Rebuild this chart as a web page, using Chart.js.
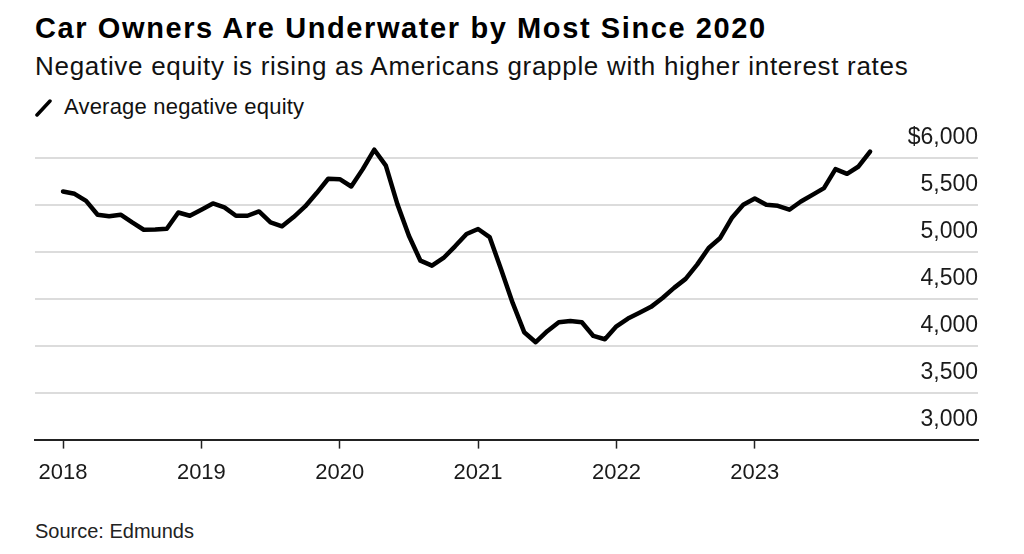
<!DOCTYPE html>
<html>
<head>
<meta charset="utf-8">
<script src="https://cdn.jsdelivr.net/npm/chart.js@4.4.1/dist/chart.umd.min.js"></script>
<style>
    html, body {
        margin: 0;
        padding: 0;
        background: #ffffff;
    }
    body {
        width: 1024px;
        height: 554px;
        position: relative;
        overflow: hidden;
        font-family: 'Liberation Sans', Arial, Helvetica, sans-serif;
        color: #000;
    }
    .txt {
        position: absolute;
        left: 35px;
        line-height: 1;
        white-space: nowrap;
    }
    #title {
        top: 14px;
        font-size: 29px;
        font-weight: bold;
        letter-spacing: 1.6px;
    }
    #subtitle {
        top: 53px;
        font-size: 26px;
        letter-spacing: 0.7px;
        color: #111;
    }
    #legend {
        top: 96px;
        font-size: 22px;
        letter-spacing: 0.2px;
        color: #111;
    }
    #legend svg {
        position: absolute;
        left: 0;
        top: 2px;
    }
    #legend span {
        position: absolute;
        left: 29px;
        top: 0;
    }
    #source {
        top: 521px;
        font-size: 20px;
        color: #222;
    }
    .chart-box {
        position: absolute;
        left: 0;
        top: 0;
        width: 1024px;
        height: 497px;
    }
</style>
</head>
<body>
<div id="title" class="txt">Car Owners Are Underwater by Most Since 2020</div>
<div id="subtitle" class="txt">Negative equity is rising as Americans grapple with higher interest rates</div>
<div id="legend" class="txt">
    <svg width="20" height="20"><line x1="2" y1="17" x2="15" y2="3" stroke="#000" stroke-width="3.5" stroke-linecap="round"/></svg>
    <span>Average negative equity</span>
</div>
<div class="chart-box"><canvas id="equityChart"></canvas></div>
<div id="source" class="txt">Source: Edmunds</div>

<script>
// monthly average negative equity, Jan 2018 - Nov 2023
const equity = [
    5645, 5620, 5545, 5397, 5380, 5397, 5315, 5237, 5240, 5248, 5421, 5386,
    5450, 5517, 5475, 5386, 5386, 5432, 5315, 5273, 5372, 5485, 5628, 5780,
    5776, 5698, 5883, 6090, 5920, 5510, 5173, 4907, 4854, 4936, 5060, 5191,
    5245, 5159, 4812, 4457, 4145, 4038, 4155, 4250, 4265, 4251, 4105, 4070,
    4208, 4290, 4351, 4415, 4510, 4617, 4713, 4865, 5042, 5149, 5362, 5503,
    5570, 5503, 5492, 5450, 5538, 5609, 5681, 5883, 5833, 5911, 6070
];
const yearLabels = ['2018', '2019', '2020', '2021', '2022', '2023'];
const yTicks = [3000, 3500, 4000, 4500, 5000, 5500, 6000];

const points = equity.map((v, i) => ({ x: i, y: v }));

new Chart(document.getElementById('equityChart'), {
    type: 'line',
    data: {
        datasets: [{
            label: 'Average negative equity',
            data: points,
            borderColor: '#000',
            borderWidth: 4.5,
            borderJoinStyle: 'round',
            borderCapStyle: 'round',
            pointRadius: 0,
            tension: 0,
            fill: false
        }]
    },
    options: {
        responsive: true,
        maintainAspectRatio: false,
        animation: false,
        layout: {
            padding: { left: 35, right: 46, top: 130, bottom: 0 }
        },
        plugins: {
            legend: { display: false },
            tooltip: { enabled: false }
        },
        scales: {
            x: {
                type: 'linear',
                min: -2.43,
                max: 79.36,
                afterBuildTicks: (axis) => {
                    axis.ticks = yearLabels.map((_, i) => ({ value: i * 12 }));
                },
                ticks: {
                    autoSkip: false,
                    maxRotation: 0,
                    padding: 11,
                    color: '#1a1a1a',
                    font: { family: "'Liberation Sans', Arial, sans-serif", size: 22 },
                    callback: (v) => yearLabels[Math.round(v / 12)]
                },
                grid: {
                    drawOnChartArea: false,
                    drawTicks: true,
                    tickLength: 9,
                    tickWidth: 1.5,
                    tickColor: '#222'
                },
                border: { display: true, color: '#222', width: 2 }
            },
            y: {
                position: 'right',
                min: 3000,
                max: 6300,
                afterBuildTicks: (axis) => {
                    axis.ticks = yTicks.map((v) => ({ value: v }));
                },
                ticks: {
                    mirror: true,
                    padding: 0,
                    labelOffset: -20,
                    color: '#1a1a1a',
                    font: { family: "'Liberation Sans', Arial, sans-serif", size: 23 },
                    callback: (v) => (v === 6000 ? '$' : '') + v.toLocaleString('en-US')
                },
                grid: {
                    drawTicks: false,
                    lineWidth: 2,
                    color: (ctx) => (ctx.tick && ctx.tick.value === 3000 ? 'rgba(0,0,0,0)' : '#dcdcdc')
                },
                border: { display: false }
            }
        }
    }
});
</script>
</body>
</html>
